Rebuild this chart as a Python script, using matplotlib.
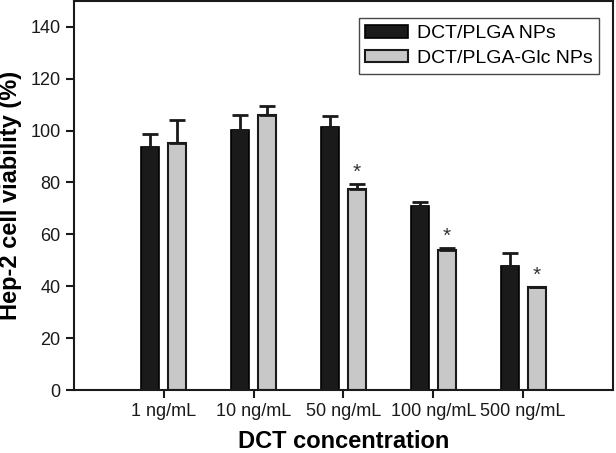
import matplotlib
matplotlib.use("Agg")
import matplotlib.pyplot as plt
import numpy as np

plt.rcParams['font.family'] = ['Liberation Sans', 'DejaVu Sans']

# data
concs = ["1 ng/mL", "10 ng/mL", "50 ng/mL", "100 ng/mL", "500 ng/mL"]
plga = [93.6, 100.3, 101.4, 71.0, 47.8]
plga_err = [5.1, 5.7, 4.4, 1.6, 4.9]
plga_glc = [95.4, 106.0, 77.6, 54.0, 39.6]
plga_glc_err = [8.7, 3.5, 2.0, 0.6, 0.2]
signif = [False, False, True, True, True]

x = np.arange(len(concs))
w = 0.2

fig = plt.figure(figsize=(6.16, 4.53), dpi=100)
ax = fig.add_axes([0.120, 0.139, 0.875, 0.859])

ax.bar(x - 0.15, plga, w, color="#1a1a1a", edgecolor="black", linewidth=1.2,
       yerr=[np.zeros(len(x)), plga_err], capsize=6,
       error_kw=dict(elinewidth=2, capthick=2, ecolor="#1a1a1a"),
       label="DCT/PLGA NPs")
ax.bar(x + 0.15, plga_glc, w, color="#c8c8c8", edgecolor="#1a1a1a", linewidth=1.5,
       yerr=[np.zeros(len(x)), plga_glc_err], capsize=6,
       error_kw=dict(elinewidth=2, capthick=2, ecolor="#1a1a1a"),
       label="DCT/PLGA-Glc NPs")

for i in range(len(x)):
    if signif[i]:
        ax.text(x[i] + 0.15, plga_glc[i] + plga_glc_err[i] + 0.8, "*",
                ha="center", va="bottom", fontsize=15, color="#333333")

ax.set_xlim(-1, 5)
ax.set_ylim(0, 150)
ax.set_yticks(np.arange(0, 141, 20))
ax.set_xticks(x)
ax.set_xticklabels(concs)
ax.tick_params(axis="both", direction="out", length=6, width=1.5,
               labelsize=13, colors="#1a1a1a")
for s in ax.spines.values():
    s.set_linewidth(1.5)
    s.set_color("#1a1a1a")

ax.set_ylabel("Hep-2 cell viability (%)", fontsize=17, fontweight="bold", labelpad=6)
ax.set_xlabel("DCT concentration", fontsize=17, fontweight="bold", labelpad=7)

leg = ax.legend(loc="upper right", bbox_to_anchor=(0.975, 0.955), fontsize=14,
                frameon=True, fancybox=False, handlelength=2.2, handleheight=0.6,
                borderpad=0.35, labelspacing=0.4, handletextpad=0.45,
                borderaxespad=0)
leg.get_frame().set_edgecolor("#1a1a1a")
leg.get_frame().set_linewidth(1.0)

fig.savefig("out.png", dpi=100)
